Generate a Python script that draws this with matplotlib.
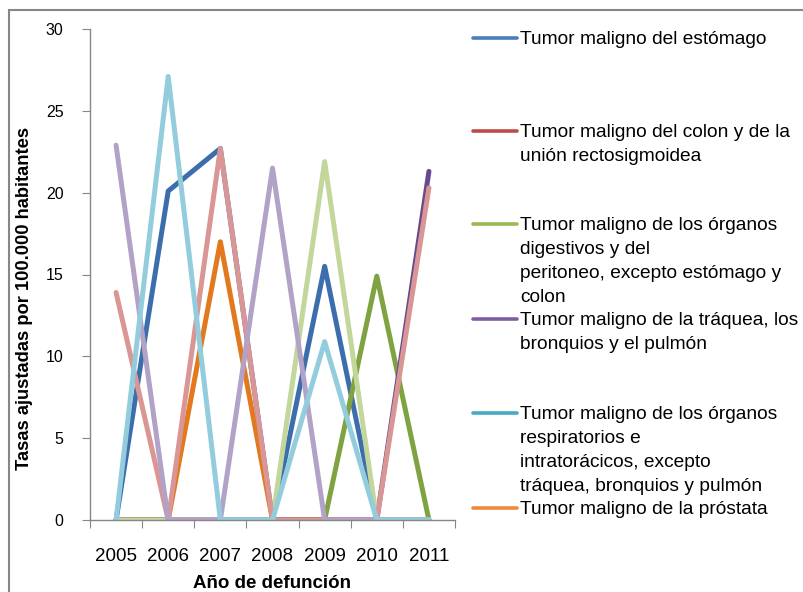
import numpy as np
import matplotlib
matplotlib.use('Agg')
from matplotlib import pyplot as plt
from matplotlib.lines import Line2D
from matplotlib.patches import Rectangle

plt.rcParams['font.family'] = ['Liberation Sans', 'DejaVu Sans']

# datos
anios = ['2005', '2006', '2007', '2008', '2009', '2010', '2011']

estomago = [0, 20.1, 22.7, 0, 15.5, 0, 0]
prostata = [0, 0, 17.0, 0, 0, 0, 0]
digestivos_b = [0, 0, 0, 0, 0, 14.9, 0]
traquea_b = [0, 0, 0, 0, 0, 0, 21.3]
digestivos = [0, 0, 0, 0, 21.9, 0, 0]
colon = [13.9, 0, 22.7, 0, 0, 0, 20.3]
traquea = [22.9, 0, 0, 21.5, 0, 0, 0]
respiratorios = [0, 27.1, 0, 0, 10.9, 0, 0]

series = [estomago, prostata, digestivos_b, traquea_b, digestivos, colon, traquea, respiratorios]
colores = ['#3C6EAD', '#E3791F', '#7EA340', '#664A8E', '#C3D69B', '#D99694', '#B3A2C7', '#93CDDD']

leyenda = ['Tumor maligno del estómago',
           'Tumor maligno del colon y de la\nunión rectosigmoidea',
           'Tumor maligno de los órganos\ndigestivos y del\nperitoneo, excepto estómago y\ncolon',
           'Tumor maligno de la tráquea, los\nbronquios y el pulmón',
           'Tumor maligno de los órganos\nrespiratorios e\nintratorácicos, excepto\ntráquea, bronquios y pulmón',
           'Tumor maligno de la próstata']
colores_leyenda = ['#4A7EBB', '#BE4B48', '#98B954', '#7D5FA0', '#46AAC5', '#F08A3A']

W, H = 804, 592
fig = plt.figure(figsize=(W / 100, H / 100), dpi=100)

# marco gris
fig.patches.append(Rectangle((9 / W, -0.05), 1.2, 1 - 10 / H + 0.05, transform=fig.transFigure,
                             fill=False, edgecolor='#878787', linewidth=1.5))

ax = fig.add_axes([90 / W, 1 - 520 / H, 365 / W, 491 / H])
x = np.arange(len(anios))
for s, c in zip(series, colores):
    ax.plot(x, s, color=c, linewidth=3.6, solid_capstyle='round', solid_joinstyle='round')

ax.set_xlim(-0.5, len(anios) - 0.5)
ax.set_ylim(0, 30)
ax.set_yticks(np.arange(0, 31, 5))
ax.set_xticks(np.arange(-0.5, len(anios)))
ax.set_xticklabels([])
ax.set_xticks(x, minor=True)
ax.set_xticklabels(anios, minor=True, fontsize=13.5)
ax.tick_params(axis='x', which='minor', length=0, pad=20)
ax.tick_params(axis='x', which='major', length=6, color='#868686', direction='out')
ax.tick_params(axis='y', length=6, color='#868686', direction='out', pad=13, labelsize=11.5)
for sp in ['top', 'right']:
    ax.spines[sp].set_visible(False)
for sp in ['left', 'bottom']:
    ax.spines[sp].set_color('#868686')
    ax.spines[sp].set_linewidth(1)

fig.text(272 / W, 1 - 583 / H, 'Año de defunción', ha='center', va='center',
         fontsize=13.5, fontweight='bold')
fig.text(25 / W, 1 - 298 / H, 'Tasas ajustadas por 100.000 habitantes', ha='center', va='center',
         rotation=90, fontsize=13.2, fontweight='bold')

# leyenda manual
ys = [37.7, 130.7, 224, 319, 412.7, 508]
for y, txt, c in zip(ys, leyenda, colores_leyenda):
    fig.add_artist(Line2D([473 / W, 517 / W], [1 - y / H, 1 - y / H], color=c, linewidth=2.6,
                          solid_capstyle='round', transform=fig.transFigure))
    fig.text(520 / W, 1 - (y - 7) / H, txt, ha='left', va='top', fontsize=13.8, linespacing=1.55)

fig.savefig('out.png', dpi=100)
